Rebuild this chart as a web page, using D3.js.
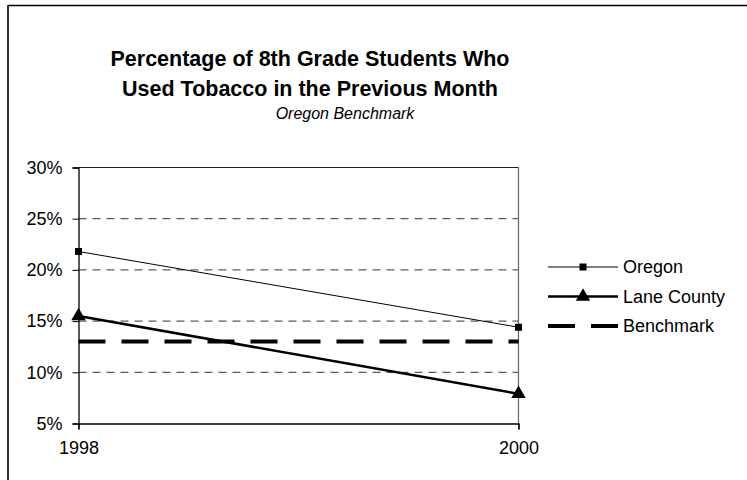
<!DOCTYPE html>
<html>
<head>
<meta charset="utf-8">
<script src="https://cdn.jsdelivr.net/npm/d3@7"></script>
<style>
  html, body { margin: 0; padding: 0; background: #fff; }
  svg { display: block; font-family: "Liberation Sans", Arial, sans-serif; }
</style>
</head>
<body>
<svg id="chart" width="747" height="480"></svg>
<script>
// Tobacco use among 8th graders, 1998 vs 2000
const years = [1998, 2000];
const yearLabels = ["1998", "2000"];
const oregon = [21.8, 14.4];
const laneCounty = [15.5, 7.9];
const benchmark = [13, 13];
const yTicks = [5, 10, 15, 20, 25, 30];
const seriesNames = ["Oregon", "Lane County", "Benchmark"];

const svg = d3.select("#chart");

// chart frame
svg.append("line").attr("x1", 8).attr("x2", 747).attr("y1", 5.5).attr("y2", 5.5)
  .attr("stroke", "#000").attr("stroke-width", 1.5);
svg.append("line").attr("x1", 8).attr("x2", 8).attr("y1", 5).attr("y2", 480)
  .attr("stroke", "#333").attr("stroke-width", 2);

// titles
const cx = 310;
const title = svg.append("text").attr("text-anchor", "middle")
  .attr("font-weight", "bold").attr("font-size", 21.5).attr("fill", "#000");
title.append("tspan").attr("x", cx).attr("y", 66).text("Percentage of 8th Grade Students Who");
title.append("tspan").attr("x", cx).attr("y", 96).text("Used Tobacco in the Previous Month");
svg.append("text").attr("x", 345).attr("y", 119).attr("text-anchor", "middle")
  .attr("font-style", "italic").attr("font-size", 16).text("Oregon Benchmark");

// scales
const x = d3.scalePoint().domain(years).range([78.5, 518.5]);
const y = d3.scaleLinear().domain([5, 30]).range([423.5, 167.5]);

// dashed gridlines
svg.append("g").selectAll("line").data(yTicks.filter(t => t > 5 && t < 30)).join("line")
  .attr("x1", x(1998)).attr("x2", x(2000))
  .attr("y1", d => y(d)).attr("y2", d => y(d))
  .attr("stroke", "#333").attr("stroke-width", 1).attr("stroke-dasharray", "8,6");

// plot area border
svg.append("line").attr("x1", x(1998)).attr("x2", x(2000)).attr("y1", y(30)).attr("y2", y(30))
  .attr("stroke", "#222").attr("stroke-width", 1.2);
svg.append("line").attr("x1", x(2000)).attr("x2", x(2000)).attr("y1", y(30)).attr("y2", y(5))
  .attr("stroke", "#666").attr("stroke-width", 1.2);

// y axis
const yAxis = svg.append("g").attr("transform", `translate(${x(1998)},0)`)
  .call(d3.axisLeft(y).tickValues(yTicks).tickSize(6).tickPadding(10).tickFormat(d => d + "%"));
yAxis.select(".domain").attr("stroke", "#000").attr("stroke-width", 1.3);
yAxis.selectAll(".tick line").attr("stroke", "#000");
yAxis.selectAll("text").attr("font-size", 18).attr("font-family", "Liberation Sans, Arial, sans-serif").attr("fill", "#000");

// x axis
const xAxis = svg.append("g").attr("transform", `translate(0,${y(5)})`)
  .call(d3.axisBottom(x).tickSize(6).tickPadding(12).tickFormat((d, i) => yearLabels[i]));
xAxis.select(".domain").attr("stroke", "#000").attr("stroke-width", 1.3);
xAxis.selectAll(".tick line").attr("stroke", "#000");
xAxis.selectAll("text").attr("font-size", 18).attr("font-family", "Liberation Sans, Arial, sans-serif").attr("fill", "#000");

const line = d3.line().x((d, i) => x(years[i])).y(d => y(d));

// benchmark
svg.append("path").datum(benchmark).attr("d", line).attr("fill", "none")
  .attr("stroke", "#000").attr("stroke-width", 4).attr("stroke-dasharray", "27,16");

// Oregon
svg.append("path").datum(oregon).attr("d", line).attr("fill", "none")
  .attr("stroke", "#000").attr("stroke-width", 1);
svg.append("g").selectAll("rect").data(oregon).join("rect")
  .attr("x", (d, i) => x(years[i]) - 3.5).attr("y", d => y(d) - 3.5)
  .attr("width", 7).attr("height", 7).attr("fill", "#000");

// Lane County
svg.append("path").datum(laneCounty).attr("d", line).attr("fill", "none")
  .attr("stroke", "#000").attr("stroke-width", 2.5);
const tri = d3.symbol().type(d3.symbolTriangle).size(90);
svg.append("g").selectAll("path").data(laneCounty).join("path")
  .attr("d", tri).attr("transform", (d, i) => `translate(${x(years[i])},${y(d)})`).attr("fill", "#000");

// legend
const legend = svg.append("g");
const ly = [267, 296.5, 326];
legend.append("line").attr("x1", 548).attr("x2", 618).attr("y1", ly[0]).attr("y2", ly[0])
  .attr("stroke", "#000").attr("stroke-width", 1);
legend.append("rect").attr("x", 583 - 3.5).attr("y", ly[0] - 3.5).attr("width", 7).attr("height", 7);
legend.append("line").attr("x1", 548).attr("x2", 618).attr("y1", ly[1]).attr("y2", ly[1])
  .attr("stroke", "#000").attr("stroke-width", 2.5);
legend.append("path").attr("d", tri).attr("transform", `translate(583,${ly[1]})`);
legend.append("line").attr("x1", 548).attr("x2", 618).attr("y1", ly[2]).attr("y2", ly[2])
  .attr("stroke", "#000").attr("stroke-width", 4).attr("stroke-dasharray", "27,16");
legend.selectAll("text").data(seriesNames).join("text")
  .attr("x", 623).attr("y", (d, i) => ly[i]).attr("dy", "0.35em")
  .attr("font-size", 18).text(d => d);
</script>
</body>
</html>
